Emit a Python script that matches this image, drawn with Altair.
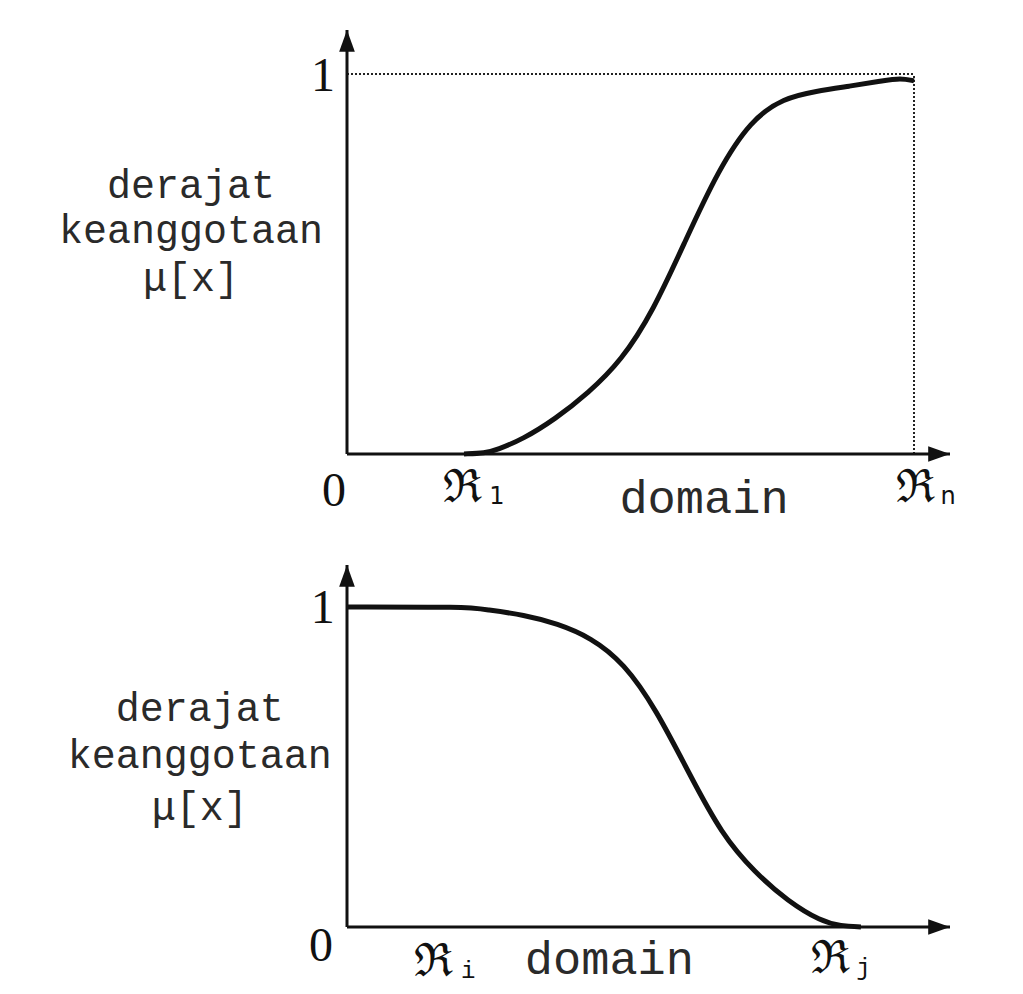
import altair as alt
import pandas as pd

# ---------------- data ----------------
# top panel: rising S-curve
top_curve_x = [1.95, 2.3, 2.5, 2.93, 3.47, 4.02, 4.57, 5.1, 5.65, 6.18, 6.73, 7.28, 7.82, 8.37, 8.92, 9.23, 9.45]
top_curve_y = [0.0, 0.002, 0.011, 0.039, 0.092, 0.160, 0.245, 0.375, 0.565, 0.745, 0.879, 0.937, 0.955, 0.968, 0.982, 0.990, 0.982]
top_xmax = 10.05
top_ymax = 1.116
top_rn = 9.45

# bottom panel: falling curve
bot_curve_x = [0.0, 1.98, 2.28, 2.93, 3.47, 4.02, 4.57, 5.1, 5.65, 6.18, 6.73, 7.28, 7.82, 8.15, 8.48]
bot_curve_y = [1.0, 1.0, 0.992, 0.975, 0.948, 0.905, 0.825, 0.680, 0.478, 0.290, 0.170, 0.080, 0.018, 0.003, 0.0]
bot_xmax = 9.95
bot_ymax = 1.131

# texts
ylabel_lines = ["derajat", "keanggotaan", "\u03bc[x]"]
top_ylabel_x = -2.6
top_ylabel_y = [0.675, 0.556, 0.43]
bot_ylabel_x = -2.43
bot_ylabel_y = [0.645, 0.497, 0.335]

top_num_t = ["1", "0"]
top_num_x = [-0.4, -0.217]
top_num_y = [0.992, -0.1]
bot_num_t = ["1", "0"]
bot_num_x = [-0.4, -0.43]
bot_num_y = [0.994, -0.0625]

top_R_x = [1.93, 9.47]
top_R_y = [-0.09, -0.09]
top_sub_t = ["1", "n"]
top_sub_x = [2.5, 10.02]
top_sub_y = [-0.112, -0.112]
bot_R_x = [1.43, 7.97]
bot_R_y = [-0.11, -0.1]
bot_sub_t = ["i", "j"]
bot_sub_x = [2.0, 8.52]
bot_sub_y = [-0.138, -0.128]

top_domain_xy = (5.95, -0.118)
bot_domain_xy = (4.33, -0.103)

ARROW_UP = "M0,0L-0.36,1L0.36,1Z"
ARROW_RIGHT = "M0,0L-1,-0.36L-1,0.36Z"
INK = "#111111"
TXT = "#2a2a2a"


def panel(cx, cy, xmax, ymax, width, height, lab_x, lab_y, num_t, num_x, num_y,
          R_x, R_y, sub_t, sub_x, sub_y, sub_font, dom_xy, dotted=None):
    xs = alt.Scale(domain=[0, xmax], nice=False, zero=False)
    ys = alt.Scale(domain=[0, ymax], nice=False, zero=False)
    X = lambda f="x": alt.X(f"{f}:Q", scale=xs, axis=None)
    Y = lambda f="y": alt.Y(f"{f}:Q", scale=ys, axis=None)

    curve = alt.Chart(pd.DataFrame({"x": cx, "y": cy})).mark_line(
        color=INK, strokeWidth=5, interpolate="basis", strokeCap="butt"
    ).encode(x=X(), y=Y())

    xaxis = alt.Chart(pd.DataFrame({"x": [0.0], "x2": [xmax], "y": [0.0]})).mark_rule(
        color=INK, strokeWidth=3).encode(x=X(), x2="x2:Q", y=Y())
    yaxis = alt.Chart(pd.DataFrame({"x": [0.0], "y": [0.0], "y2": [ymax]})).mark_rule(
        color=INK, strokeWidth=3).encode(x=X(), y=Y(), y2="y2:Q")
    arr_up = alt.Chart(pd.DataFrame({"x": [0.0], "y": [ymax]})).mark_point(
        shape=ARROW_UP, filled=True, size=1900, color=INK, opacity=1).encode(x=X(), y=Y())
    arr_right = alt.Chart(pd.DataFrame({"x": [xmax], "y": [0.0]})).mark_point(
        shape=ARROW_RIGHT, filled=True, size=1900, color=INK, opacity=1).encode(x=X(), y=Y())

    layers = []
    if dotted is not None:
        rx = dotted
        h = alt.Chart(pd.DataFrame({"x": [0.0], "x2": [rx], "y": [1.0]})).mark_rule(
            color="#222222", strokeWidth=2, strokeDash=[2, 2]).encode(x=X(), x2="x2:Q", y=Y())
        v = alt.Chart(pd.DataFrame({"x": [rx], "y": [0.0], "y2": [1.0]})).mark_rule(
            color="#222222", strokeWidth=2, strokeDash=[2, 2]).encode(x=X(), y=Y(), y2="y2:Q")
        layers += [h, v]

    ylab = alt.Chart(pd.DataFrame({"x": [lab_x] * 3, "y": lab_y, "t": ylabel_lines})).mark_text(
        font="Liberation Mono", fontSize=40, color=TXT, baseline="alphabetic", align="center"
    ).encode(x=X(), y=Y(), text="t:N")
    nums = alt.Chart(pd.DataFrame({"x": num_x, "y": num_y, "t": num_t})).mark_text(
        font="Liberation Serif", fontSize=48, color=INK, baseline="middle", align="center"
    ).encode(x=X(), y=Y(), text="t:N")
    Rs = alt.Chart(pd.DataFrame({"x": R_x, "y": R_y, "t": ["\u211c"] * 2})).mark_text(
        font="DejaVu Serif", fontSize=46, color=INK, baseline="middle", align="center"
    ).encode(x=X(), y=Y(), text="t:N")
    subs = alt.Chart(pd.DataFrame({"x": sub_x, "y": sub_y, "t": sub_t})).mark_text(
        font=sub_font, fontSize=24, color=INK, baseline="middle", align="center"
    ).encode(x=X(), y=Y(), text="t:N")
    dom = alt.Chart(pd.DataFrame({"x": [dom_xy[0]], "y": [dom_xy[1]], "t": ["domain"]})).mark_text(
        font="Liberation Mono", fontSize=47, color=TXT, baseline="middle", align="center"
    ).encode(x=X(), y=Y(), text="t:N")

    layers += [xaxis, yaxis, arr_up, arr_right, curve, ylab, nums, Rs, subs, dom]
    return alt.layer(*layers).properties(width=width, height=height)


top = panel(top_curve_x, top_curve_y, top_xmax, top_ymax, 603, 424,
            top_ylabel_x, top_ylabel_y, top_num_t, top_num_x, top_num_y,
            top_R_x, top_R_y, top_sub_t, top_sub_x, top_sub_y, "DejaVu Sans",
            top_domain_xy, dotted=top_rn)
bottom = panel(bot_curve_x, bot_curve_y, bot_xmax, bot_ymax, 603, 362,
               bot_ylabel_x, bot_ylabel_y, bot_num_t, bot_num_x, bot_num_y,
               bot_R_x, bot_R_y, bot_sub_t, bot_sub_x, bot_sub_y, "Liberation Mono",
               bot_domain_xy)

chart = alt.vconcat(top, bottom, spacing=111, bounds="flush").properties(
    padding={"left": 50, "top": 20, "right": 10, "bottom": 5},
    background="white",
).configure_view(stroke=None)

chart.save("out.html", embed_options={"renderer": "svg", "actions": False})
